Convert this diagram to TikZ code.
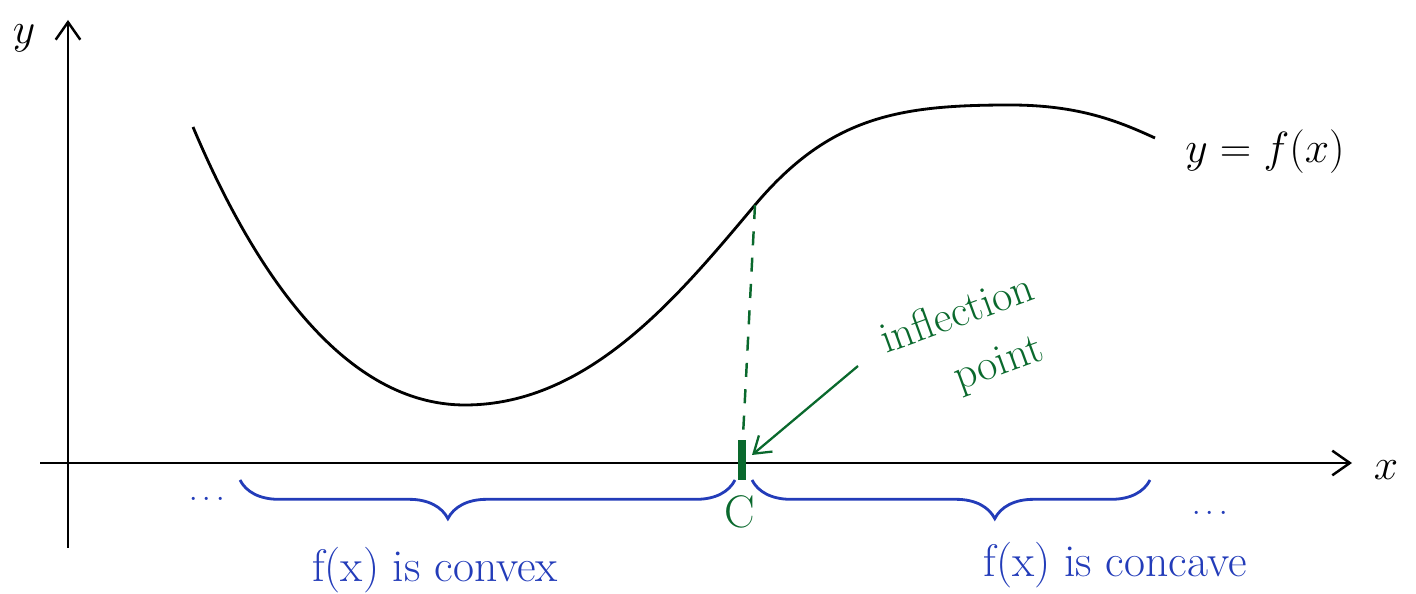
\documentclass[tikz,border=0pt]{standalone}
\usetikzlibrary{arrows.meta,decorations.pathreplacing}

\definecolor{penblue}{RGB}{35,60,185}
\definecolor{pengreen}{RGB}{10,105,45}

\tikzset{
  axisline/.style={line width=1.4pt,-{Straight Barb[length=10pt,width=14pt]}},
  curlybrace/.style={penblue,line width=1.6pt,decorate,
    decoration={brace,mirror,amplitude=22pt,aspect=#1}},
  hand/.style={font=\fontsize{26}{30}\selectfont}
}

\begin{document}
\begin{tikzpicture}[x=0.02cm,y=0.02cm]
\useasboundingbox (0,0) rectangle (1416,594);

\coordinate (Xl) at (40,131);
\coordinate (Xr) at (1352,131);
\coordinate (Yb) at (68,46);
\coordinate (Yt) at (68,574);

\coordinate (A) at (193,467);
\coordinate (M) at (465,189);
\coordinate (I) at (755,389);
\coordinate (T) at (1010,489);
\coordinate (B) at (1155,456);

\coordinate (Cfoot) at (742,139);
\coordinate (tail) at (858,228);
\coordinate (tip) at (752,139);

% axes
\draw[axisline] (Xl)--(Xr);
\draw[axisline] (Yb)--(Yt);
\node[hand] (ylab) at (24,556) {$y$};
\node[hand] (xlab) at (1386,124) {$x$};

% the curve
\draw[line width=1.6pt] (A) .. controls (255,320) and (345,189) .. (M)
  .. controls (590,189) and (680,300) .. (I)
  .. controls (830,478) and (900,489) .. (T)
  .. controls (1080,489) and (1120,472) .. (B);
\node[hand,font=\fontsize{24}{28}\selectfont] (flab) at (1265,442) {$y = f(x)$};

% inflection point
\draw[pengreen,line width=1.4pt,dash pattern=on 8pt off 7pt] (I)--(Cfoot);
\draw[pengreen,line width=4pt] (742,114)--(742,154);
\node[hand,pengreen] (clab) at (740,82) {C};
\node[pengreen,rotate=20,align=center,font=\fontsize{25}{34}\selectfont] (ip) at (968,250)
  {inflection\\ \hspace*{1em}point};
\draw[pengreen,line width=1.3pt,-{Straight Barb[length=9pt,width=12pt]}] (tail)--(tip);

% braces
\draw[curlybrace=0.42] (240,114)--(735,114);
\draw[curlybrace=0.61] (752,114)--(1150,114);
\node[penblue,font=\fontsize{18}{20}\selectfont] (ldots) at (207,94) {$\cdots$};
\node[penblue,font=\fontsize{18}{20}\selectfont] (rdots) at (1210,80) {$\cdots$};

\node[hand,penblue] (convex) at (435,24) {f(x) is convex};
\node[hand,penblue] (concave) at (1115,29) {f(x) is concave};

\end{tikzpicture}
\end{document}
